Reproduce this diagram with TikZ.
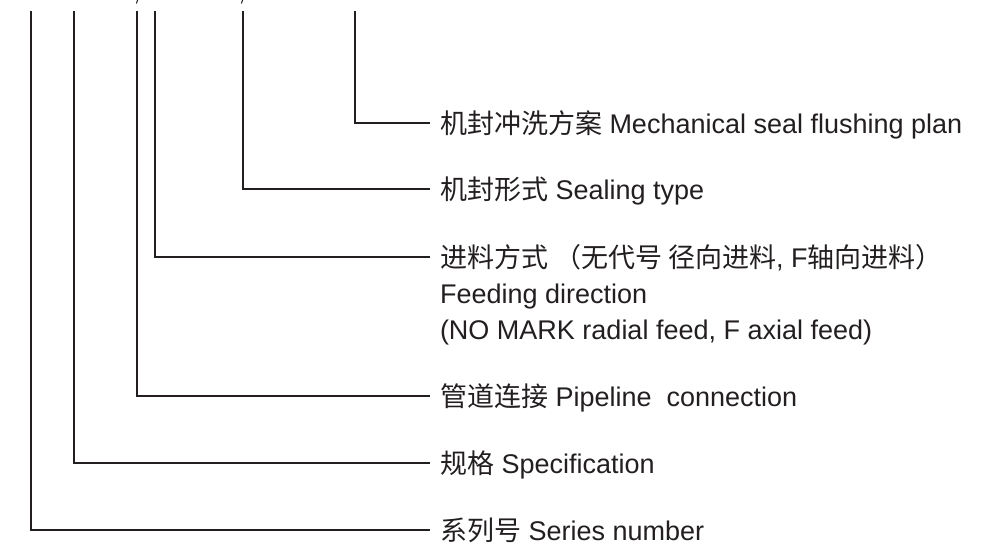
\documentclass[tikz,border=0pt]{standalone}
\usepackage{fontspec}
\setmainfont{Liberation Sans}
\newfontfamily\cjk{Noto Sans CJK SC}
\usetikzlibrary{positioning}
\definecolor{inkgray}{RGB}{35,31,32}
\tikzset {
    style T/.style={
        text=inkgray,
        font=\fontsize{27}{35}\selectfont,
        inner sep=0pt,
        outer xsep=10pt, % gap between lead line and text
        text height=21pt,
        text depth=0pt,
        anchor=west,
    },
    style L/.style={
        draw=inkgray,
        line width=1.2pt,
    },
}

\begin{document}
\begin{tikzpicture}[x=1pt, y=-1pt]
        \useasboundingbox (0,0) rectangle (998,547);

        \node[style T] at (430,123) (flush) {{\cjk 机封冲洗方案} Mechanical seal flushing plan};
        \node[style T] at (430,189) (sealing) {{\cjk 机封形式} Sealing type};
        \node[style T] at (430,257) (feed) {{\cjk 进料方式 （无代号 径向进料}, F{\cjk 轴向进料）}};
        \node[style T] at (430,292.5) (feedEn) {Feeding direction};
        \node[style T] at (430,328.5) (feedNote) {(NO MARK radial feed, F axial feed)};
        \node[style T] at (430,396) (pipe) {{\cjk 管道连接} Pipeline~ connection};
        \node[style T] at (430,463) (spec) {{\cjk 规格} Specification};
        \node[style T] at (430,530) (series) {{\cjk 系列号} Series number};

        \coordinate (cSeries) at (31,11);
        \coordinate (cSpec) at (74,11);
        \coordinate (cPipe) at (137,11);
        \coordinate (cFeed) at (155,11);
        \coordinate (cSealing) at (243,11);
        \coordinate (cFlush) at (355,11);

        \draw[style L] (cSeries) |- (series.west);
        \draw[style L] (cSpec) |- (spec.west);
        \draw[style L] (cPipe) |- (pipe.west);
        \draw[style L] (cFeed) |- (feed.west);
        \draw[style L] (cSealing) |- (sealing.west);
        \draw[style L] (cFlush) |- (flush.west);

        % cut-off slashes at the top edge
        \draw[style L, line width=1pt] (137.6,0) -- (136.4,3.5);
        \draw[style L, line width=1pt] (242.6,0) -- (241.4,3.5);
    \end{tikzpicture}
\end{document}
